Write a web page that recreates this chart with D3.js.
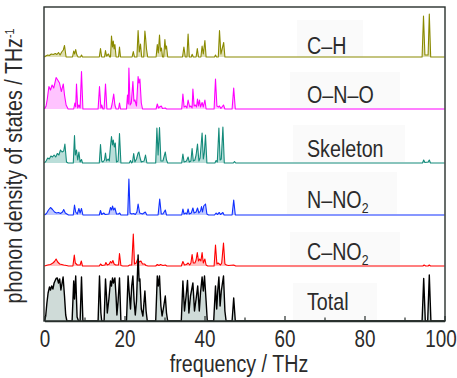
<!DOCTYPE html>
<html><head><meta charset="utf-8">
<script src="https://cdn.jsdelivr.net/npm/d3@7"></script>
<style>
body{margin:0;background:#fff}
svg{display:block}
text{font-family:"Liberation Sans",Arial,Helvetica,sans-serif;fill:#2b2b2b}
</style>
</head><body>
<svg id="chart" width="457" height="378"></svg>
<script>
// ---------------- data (frequency THz, density a.u.) ----------------
const freqTicks = [0, 20, 40, 60, 80, 100];
const freqMinorTicks = [10, 30, 50, 70, 90];
const seriesNames = ["Total", "C–NO", "N–NO", "Skeleton", "O–N–O", "C–H"];
const seriesSubs = ["", "2", "2", "", "", ""];
const seriesOffsets = [0, 55, 106, 158, 212, 264];

const totalDOS = [[0,0],[0.3,5],[0.6,18],[0.9,28],[1.25,34],[1.5,31],[1.8,35],[2.1,32],[2.4,38],[2.9,42.5],[3.2,43],[3.5,38],[3.8,42],[4.1,31],[4.4,38],[4.65,44],[5.0,25],[5.3,6],[5.6,0],
[6.9,0],[7.3,40],[7.5,22],[7.8,45],[8.15,4],[8.5,0],[8.9,0],[9.25,44],[9.6,0],
[13.4,0],[13.75,45],[14.1,8],[14.3,0],
[14.9,0],[15.25,42],[15.5,25],[15.7,8],[16.1,22],[16.5,40],[16.75,35],[17.0,43],[17.25,38],[17.6,43],[17.9,24],[18.1,6],[18.4,20],[18.75,43],[19.1,0],
[20.5,0],[20.9,45],[21.15,30],[21.5,12],[21.8,35],[22.1,45],[22.4,20],[22.7,6],[23.0,20],[23.4,66],[23.65,40],[23.85,42],[24.2,12],[24.6,5],[25.1,30],[25.4,10],[25.7,0],
[27.8,0],[28.2,45],[28.45,35],[28.75,45],[29.1,15],[29.4,5],[29.7,12],[30.2,25],[30.5,8],[30.8,0],
[34.2,0],[34.6,40],[35.0,10],[35.4,25],[35.75,40.5],[36.1,8],[36.5,25],[37.1,38],[37.5,10],[37.9,22],[38.3,35],[38.7,10],[39.0,28],[39.4,44],[39.7,30],[40.0,45],[40.4,20],[40.7,0],
[42.3,0],[42.75,35],[43.05,12],[43.3,30],[43.6,44],[43.9,15],[44.2,30],[44.75,45],[45.1,10],[45.4,0],
[46.9,0],[47.3,23],[47.7,0],
[94.4,0],[94.8,42.5],[95.2,0],[95.8,0],[96.2,46],[96.6,0],[100,0]];

const cno2DOS = [[0,0],[0.8,1],[1.5,1.5],[2.1,3],[2.5,4.5],[2.9,7],[3.3,4],[3.8,2],[4.3,1.5],[4.8,1],[5.5,0.5],[6.0,0],
[7.1,0],[7.45,11],[7.7,3],[8.2,1],[8.9,1],[9.2,5],[9.5,0],
[13.7,0],[14.0,2],[14.4,0.5],[15.1,1],[15.35,3.5],[15.7,1],[16.2,2],[16.5,4.5],[16.8,3],[17.1,5.5],[17.4,2],[17.8,1],[18.5,1],[18.75,12.5],[19.1,0.5],[19.6,0],
[20.9,0],[21.3,1],[21.8,1],[22.2,32],[22.5,2],[22.9,3],[23.3,7],[23.7,4],[24.1,5],[24.5,2],[25.0,2],[25.4,0.5],[25.9,0],
[27.8,0],[28.2,1.5],[28.6,0.5],[29.0,1.5],[29.6,0.5],[30.2,1],[30.6,0],
[34.2,0],[34.6,4.5],[35.0,1],[35.5,1.5],[35.9,3],[36.3,1],[36.6,3],[36.9,11.5],[37.2,3],[37.6,3],[37.9,6],[38.2,13.5],[38.5,5],[38.8,7],[39.1,5],[39.4,13.5],[39.7,3],[40.1,7],[40.4,1],[40.8,0],
[42.4,0],[42.75,21],[43.1,2],[43.4,3],[43.7,2],[44.0,1],[44.3,3],[44.75,23],[45.1,2],[45.5,1],[46.0,0.5],[47.3,1],[47.8,0],
[94.6,0],[94.9,1],[95.3,0],[95.9,0],[96.2,1],[96.5,0],[100,0]];

const nno2DOS = [[0,0],[0.5,1.5],[1.0,5],[1.5,7.5],[2.0,5.5],[2.5,3],[3.0,2],[3.5,2.5],[4.0,1.5],[4.5,3],[4.8,5.5],[5.2,2],[5.6,1],[6.0,0],
[7.2,0],[7.5,10],[7.8,3],[8.2,1],[8.6,6.5],[8.9,2],[9.25,6.5],[9.6,0],
[13.7,0],[14.0,4.5],[14.3,0.5],[14.8,2],[15.2,0.5],[16.1,1],[16.5,7.5],[16.8,5],[17.0,9],[17.3,5],[17.6,7],[18.0,1],[18.5,1],[18.8,2],[19.1,0],
[20.8,0],[21.1,36],[21.4,2],[21.8,1],[22.3,1.5],[22.7,0.5],[23.1,3],[23.4,11],[23.8,2],[24.5,1],[25.2,3],[25.6,0],
[28.4,0],[28.8,16],[29.2,1],[29.6,1],[30.2,5],[30.5,0],
[34.3,0],[34.6,6],[34.9,1],[35.3,2],[35.6,1],[35.9,6],[36.2,1],[36.7,2],[37.1,7],[37.4,2],[37.9,3],[38.25,7],[38.6,2],[39.0,4],[39.25,8.5],[39.5,3],[39.8,9],[40.25,11],[40.6,1],[41.0,0],
[42.5,0],[42.9,2],[43.2,0.5],[43.7,2.5],[44.0,0.5],[44.6,2.5],[44.9,0],
[46.9,0],[47.3,15],[47.7,0],[100,0]];

const skeletonDOS = [[0,0],[0.4,2],[0.8,5],[1.2,4],[1.6,7],[2.0,6],[2.4,8],[2.8,6],[3.2,9.5],[3.6,8],[4.0,13],[4.4,11],[4.8,12],[5.1,19],[5.5,1],[5.9,0],
[7.2,0],[7.5,27.5],[7.7,8],[8.0,13],[8.3,3],[8.6,11],[8.9,1],[9.25,3.5],[9.5,0],
[13.7,0],[14.0,18.5],[14.3,2],[14.6,1],[15.0,3],[15.25,10],[15.5,2],[15.9,4],[16.2,2],[16.5,17],[16.75,26.5],[17.0,18],[17.2,23],[17.45,16],[17.7,20],[18.0,1],[18.4,2],[18.75,29.5],[19.1,0],
[21.2,0],[21.5,2.5],[21.8,0],[22.0,1],[22.3,9.5],[22.6,1],[23.0,4],[23.4,10],[23.6,11],[23.9,5],[24.2,1],[24.9,2],[25.25,8],[25.6,0],
[27.8,0],[28.1,35],[28.4,8],[28.75,35.5],[29.1,2],[29.6,2],[30.2,11],[30.5,3],[30.8,0],
[34.3,0],[34.6,9],[34.9,1],[35.5,2],[35.9,6],[36.2,1],[36.6,2],[36.9,14.5],[37.2,2],[37.6,3],[37.9,8],[38.25,19],[38.6,2],[38.9,5],[39.4,30],[39.7,4],[39.95,10],[40.25,28],[40.6,0],
[42.6,0],[42.9,2.5],[43.2,1],[43.6,35],[43.9,3],[44.2,4],[44.6,36],[44.95,0],
[47.2,0],[47.5,1.5],[47.8,0],
[94.5,0],[94.8,3],[95.1,0.5],[95.9,1],[96.2,3],[96.5,0],[100,0]];

const onoDOS = [[0,0],[0.4,3],[0.7,10],[1.1,22.5],[1.5,19],[1.9,24],[2.3,21],[2.6,26],[2.9,31.5],[3.3,29],[3.75,26],[4.2,17.5],[4.7,25],[5.0,14],[5.4,4],[5.9,0],
[7.3,0],[7.6,6],[7.8,2],[8.0,25],[8.3,1],[8.6,4],[8.9,1],[9.25,37.5],[9.6,0],
[13.4,0],[13.75,22.5],[14.1,1],[14.3,4],[14.6,0],[14.9,0],[15.25,25],[15.6,0],
[16.6,0],[16.9,5],[17.3,15],[17.6,4],[17.9,0],[18.5,0],[18.75,6],[19.0,0],
[20.5,0],[20.75,14],[20.95,5],[21.1,41],[21.4,4],[21.7,6],[22.1,27.5],[22.35,8],[22.6,9],[23.0,3],[23.4,32.5],[23.6,26],[23.85,30],[24.2,6],[24.5,0],
[27.9,0],[28.2,5],[28.5,1],[28.75,2],[29.2,3],[29.5,0.5],[30.2,1],[30.5,0],
[34.3,0],[34.6,15],[34.9,2],[35.3,3],[35.6,1],[35.9,9],[36.3,2],[36.6,3],[36.9,1],[37.1,20],[37.4,3],[37.7,4],[38.0,2],[38.25,10],[38.5,3],[38.75,9],[39.0,2],[39.4,6.5],[39.7,2],[40.1,9],[40.4,0],
[42.4,0],[42.75,30],[43.1,3],[43.5,2],[43.75,3],[44.1,0.5],[44.75,4],[45.1,0],
[46.9,0],[47.3,21],[47.7,0],[100,0]];

const chDOS = [[0,0],[0.3,1],[0.8,2],[1.2,1.5],[1.7,3],[2.2,2.5],[2.7,3.5],[3.1,2.5],[3.5,4.5],[3.9,2],[4.3,5],[4.7,7],[5.0,11.5],[5.4,0],
[7.0,0],[7.3,6],[7.55,3],[7.8,7.5],[8.1,2],[8.4,0],[9.0,0],[9.25,2],[9.5,0],
[13.7,0],[14.0,8.5],[14.3,0],[15.0,0],[15.25,6.5],[15.5,1],[16.0,3],[16.3,0],
[16.5,0],[16.75,21],[17.0,10],[17.2,16],[17.4,8],[17.6,12.5],[17.9,0],
[18.5,0],[18.75,10],[19.0,0],
[21.9,0],[22.2,5.5],[22.5,0],
[23.1,0],[23.4,26.5],[23.7,5],[24.0,13],[24.3,0],[24.8,0],[25.1,26],[25.3,18],[25.5,8],[25.8,0],
[27.9,0],[28.2,12.5],[28.45,4],[28.75,22],[29.0,6],[29.25,9],[29.5,0],[29.8,0],[30.1,17.5],[30.3,8],[30.5,11],[30.8,0],
[34.5,0],[34.85,10],[35.2,0],[35.6,0],[35.9,23],[36.2,0],[36.7,0],[36.9,2.7],[37.2,0],
[37.9,0],[38.2,8.5],[38.5,0],[39.1,0],[39.4,11],[39.7,3],[40.1,16.5],[40.4,0],
[42.5,0],[42.75,2],[43.0,0],[43.45,0],[43.75,26.5],[44.1,3],[44.8,14.5],[45.1,0],
[94.4,0],[94.75,41],[95.1,2],[95.9,2],[96.2,43],[96.55,0],[100,0]];

const seriesData = [totalDOS, cno2DOS, nno2DOS, skeletonDOS, onoDOS, chDOS];

// ---------------- style / layout ----------------
const colors = ["#000000", "#ff0000", "#1030ff", "#138a7a", "#ff00ff", "#8a8a00"];
const fills  = ["#c3d2ce", "#ffb0b0", "#b0bcff", "#a9d6cf", "#ffb4ff", "#d6d6a0"];
const labelPos = [[307,310],[307,259.5],[307,207.5],[307,157.3],[307,103.3],[307,54.3]];
const labelBoxes = [[293,283,84,37],[290,232,110,36],[287,172,110,42],[293,125,112,37],[290,72,110,36],[297,20,66,37]];
const SX = 0.82;

const svg = d3.select("#chart");
const x = d3.scaleLinear().domain([0, 100]).range([44.5, 444.5]);
const y = d3.scaleLinear().domain([0, 314]).range([321, 7]);

// faint label boxes
svg.selectAll("rect.lb").data(labelBoxes).enter().append("rect")
  .attr("x", d => d[0]).attr("y", d => d[1]).attr("width", d => d[2]).attr("height", d => d[3])
  .attr("fill", "#fafafa");

// draw series (top first, total last)
const order = [5, 4, 3, 2, 1, 0];
order.forEach(i => {
  const off = seriesOffsets[i];
  const data = seriesData[i];
  const area = d3.area().x(d => x(d[0])).y0(y(off)).y1(d => y(off + d[1]));
  const line = d3.line().x(d => x(d[0])).y(d => y(off + d[1]));
  svg.append("path").datum(data).attr("d", area)
    .attr("fill", fills[i]).attr("fill-opacity", 0.8).attr("stroke", "none");
  svg.append("path").datum(data).attr("d", line)
    .attr("fill", "none").attr("stroke", colors[i]).attr("stroke-width", i === 0 ? 1.4 : 1.1)
    .attr("stroke-linejoin", "round");
});

// frame
svg.append("rect").attr("x", 44).attr("y", 7).attr("width", 401).attr("height", 314)
  .attr("fill", "none").attr("stroke", "#28302d").attr("stroke-width", 1.4);

// axis ticks (inward)
const axis = d3.axisBottom(x).tickValues(freqTicks).tickSizeInner(-5).tickSizeOuter(0).tickPadding(12).tickFormat(d3.format("d"));
const gAx = svg.append("g").attr("transform", "translate(0,321)").call(axis);
gAx.select(".domain").attr("stroke", "#28302d").attr("stroke-width", 1.4);
gAx.selectAll(".tick line").attr("stroke", "#28302d").attr("stroke-width", 1.2);
gAx.selectAll(".tick text").attr("font-size", 23).attr("fill", "#2b2b2b")
  .attr("font-family", '"Liberation Sans",Arial,sans-serif')
  .attr("y", null).attr("dy", null)
  .attr("transform", d => `translate(${d === 100 ? -4 : 0},26) scale(${SX},1)`);
const axisMinor = d3.axisBottom(x).tickValues(freqMinorTicks).tickSizeInner(-3.5).tickSizeOuter(0).tickFormat("");
const gMin = svg.append("g").attr("transform", "translate(0,321)").call(axisMinor);
gMin.select(".domain").remove();
gMin.selectAll(".tick line").attr("stroke", "#28302d").attr("stroke-width", 1.2);

// series labels
seriesNames.forEach((name, i) => {
  const t = svg.append("text")
    .attr("transform", `translate(${labelPos[i][0]},${labelPos[i][1]}) scale(${SX},1)`)
    .attr("font-size", 24);
  t.append("tspan").text(name);
  if (seriesSubs[i]) t.append("tspan").attr("font-size", 15).attr("dy", 5).text(seriesSubs[i]);
});

// axis titles
svg.append("text").attr("transform", `translate(239,372) scale(${SX},1)`)
  .attr("text-anchor", "middle").attr("font-size", 24).text("frequency / THz");
const yt = svg.append("text").attr("transform", `translate(22,166) rotate(-90) scale(${SX},1)`)
  .attr("text-anchor", "middle").attr("font-size", 24);
yt.append("tspan").text("phonon density of states / THz");
yt.append("tspan").attr("font-size", 13).attr("dy", -8).text("-1");
</script>
</body></html>
